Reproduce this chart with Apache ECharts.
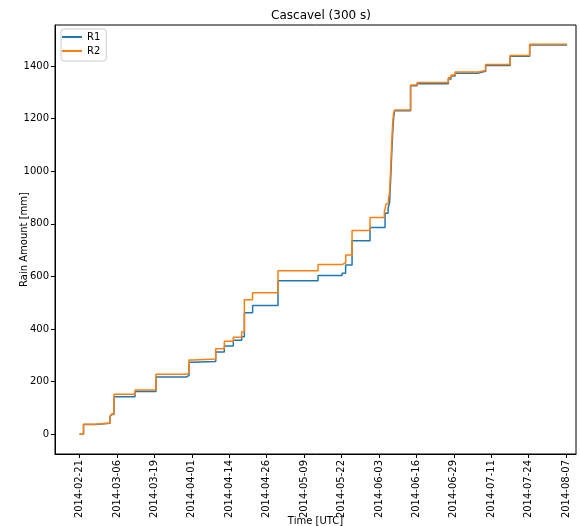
<!DOCTYPE html>
<html>
<head>
<meta charset="utf-8">
<script src="https://cdn.jsdelivr.net/npm/echarts@6/dist/echarts.min.js"></script>
<style>html,body{margin:0;padding:0;background:#fff}#c{width:580px;height:526px}</style>
</head>
<body>
<div id="c"></div>
<script>
// Tick labels on the x axis (equally spaced in the reference)
var xTickLabels = ['2014-02-21','2014-03-06','2014-03-19','2014-04-01','2014-04-14','2014-04-26','2014-05-09','2014-05-22','2014-06-03','2014-06-16','2014-06-29','2014-07-11','2014-07-24','2014-08-07'];
var yTicks = [0,200,400,600,800,1000,1200,1400];

// R1 cumulative rain (time, mm) - change points
var r1Times = ['2014-02-21 00:00','2014-02-22 09:00','2014-02-26 08:00','2014-03-03 11:00','2014-03-04 01:00','2014-03-04 20:00','2014-03-12 01:00','2014-03-19 06:00','2014-03-29 19:00','2014-03-30 14:00','2014-03-31 21:00','2014-04-08 18:00','2014-04-11 17:00','2014-04-14 19:00','2014-04-17 16:00','2014-04-18 14:00','2014-04-21 10:00','2014-04-30 03:00','2014-05-13 21:00','2014-05-22 03:00','2014-05-23 08:00','2014-05-25 13:00','2014-05-31 17:00','2014-06-05 21:00','2014-06-06 22:00','2014-06-07 10:00','2014-06-07 18:00','2014-06-08 03:00','2014-06-08 11:00','2014-06-08 19:00','2014-06-09 03:00','2014-06-14 15:00','2014-06-16 21:00','2014-06-27 14:00','2014-06-28 13:00','2014-06-29 22:00','2014-07-07 22:00','2014-07-10 09:00','2014-07-18 19:00','2014-07-25 12:00','2014-08-07 08:00'];
var r1Values = [0,37,42,67,75,143,163,218,224,274,277,313,336,357,371,462,490,584,604,612,644,736,786,840,860,880,960,1060,1140,1200,1230,1325,1333,1351,1362,1373,1380,1402,1437,1480,1480];

// R2 cumulative rain (time, mm) - change points
var r2Times = ['2014-02-21 00:00','2014-02-22 09:00','2014-02-26 08:00','2014-03-03 11:00','2014-03-04 01:00','2014-03-04 20:00','2014-03-12 01:00','2014-03-19 06:00','2014-03-29 19:00','2014-03-30 14:00','2014-03-31 21:00','2014-04-08 18:00','2014-04-11 17:00','2014-04-14 19:00','2014-04-17 16:00','2014-04-18 14:00','2014-04-21 09:00','2014-04-30 03:00','2014-05-13 21:00','2014-05-22 03:00','2014-05-23 09:00','2014-05-25 13:00','2014-05-31 17:00','2014-06-05 15:00','2014-06-06 05:00','2014-06-07 00:00','2014-06-07 10:00','2014-06-07 18:00','2014-06-08 03:00','2014-06-08 11:00','2014-06-08 19:00','2014-06-09 03:00','2014-06-14 15:00','2014-06-16 21:00','2014-06-27 14:00','2014-06-28 13:00','2014-06-29 22:00','2014-07-07 22:00','2014-07-10 09:00','2014-07-18 19:00','2014-07-25 12:00','2014-08-07 08:00'];
var r2Values = [0,38,43,69,77,152,168,228,234,282,286,325,354,369,390,511,538,622,645,652,682,775,824,845,875,891,920,1000,1100,1180,1220,1233,1328,1337,1355,1366,1377,1383,1406,1440,1483,1483];

function t(s){ return Date.parse(s.replace(' ','T') + ':00Z'); }
var DAY = 86400000;
var base = Date.UTC(2014,1,21);
var tickStep = 167 / (xTickLabels.length - 1) * DAY;
var xTickPos = xTickLabels.map(function(_, i){ return base + i * tickStep; });

function pairs(ts, vs){ return ts.map(function(s, i){ return [t(s), vs[i]]; }); }

var chart = echarts.init(document.getElementById('c'), null, {renderer:'canvas'});
var font = 'DejaVu Sans';
chart.setOption({
  animation: false,
  backgroundColor: '#fff',
  textStyle: {fontFamily: font},
  title: {text: 'Cascavel (300 s)', left: 316, textAlign: 'center', top: 5,
    textStyle: {fontFamily: font, fontSize: 12, fontWeight: 'normal', color: '#000'}},
  legend: {
    left: 61, top: 29, orient: 'vertical', itemGap: 4, itemWidth: 20, itemHeight: 2,
    padding: [3, 6, 5, 1], borderColor: '#ccc', borderWidth: 1, borderRadius: 3,
    backgroundColor: '#fff',
    textStyle: {fontFamily: font, fontSize: 10, color: '#000'},
    data: [{name: 'R1', icon: 'rect'}, {name: 'R2', icon: 'rect'}]
  },
  grid: {left: 55, right: 4, top: 25, bottom: 72, containLabel: false, outerBoundsMode: 'none',
    show: true, borderColor: '#000', borderWidth: 1, backgroundColor: 'transparent'},
  xAxis: {
    type: 'value',
    min: base - 8.41 * DAY, max: base + 170.4 * DAY,
    name: 'Time [UTC]', nameLocation: 'middle', nameGap: 62, nameMoveOverlap: false,
    nameTextStyle: {fontFamily: font, fontSize: 10, color: '#000'},
    axisLine: {show: true, onZero: false, lineStyle: {color: '#000'}},
    axisTick: {show: true, length: 4, customValues: xTickPos, lineStyle: {color: '#000'}},
    axisLabel: {show: true, rotate: 90, customValues: xTickPos, fontFamily: font, fontSize: 10, color: '#000', margin: 6,
      formatter: function(v){
        var best = 0, bd = Infinity;
        for (var i = 0; i < xTickPos.length; i++){ var d = Math.abs(xTickPos[i]-v); if (d < bd){bd = d; best = i;} }
        return xTickLabels[best];
      }},
    splitLine: {show: false}
  },
  yAxis: {
    type: 'value', min: -75, max: 1556,
    name: 'Rain Amount [mm]', nameLocation: 'middle', nameGap: 26, nameRotate: 90, nameMoveOverlap: false,
    nameTextStyle: {fontFamily: font, fontSize: 10, color: '#000'},
    axisLine: {show: true, onZero: false, lineStyle: {color: '#000'}},
    axisTick: {show: true, length: 4, customValues: yTicks, lineStyle: {color: '#000'}},
    axisLabel: {show: true, customValues: yTicks, fontFamily: font, fontSize: 10, color: '#000', margin: 6,
      formatter: function(v){ return String(Math.round(v)); }},
    splitLine: {show: false}
  },
  series: [
    {name: 'R1', type: 'line', step: 'end', showSymbol: false, symbol: 'none', color: '#1f77b4',
     lineStyle: {width: 1.5, color: '#1f77b4'}, data: pairs(r1Times, r1Values)},
    {name: 'R2', type: 'line', step: 'end', showSymbol: false, symbol: 'none', color: '#ff7f0e',
     lineStyle: {width: 1.5, color: '#ff7f0e'}, data: pairs(r2Times, r2Values)}
  ]
});
</script>
</body>
</html>
